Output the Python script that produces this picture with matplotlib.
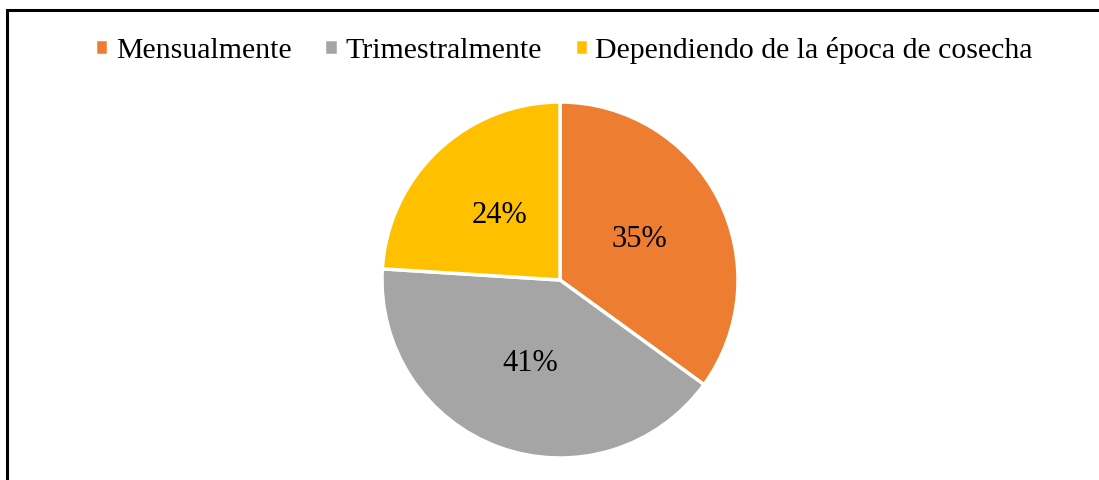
import matplotlib
matplotlib.use("Agg")
import matplotlib.pyplot as plt
from matplotlib.patches import Rectangle

categories = ["Mensualmente", "Trimestralmente", "Dependiendo de la época de cosecha"]
values = [35, 41, 24]
colors = ["#ED7D31", "#A5A5A5", "#FFC000"]

plt.rcParams['font.family'] = ['Liberation Serif', 'DejaVu Serif']

fig = plt.figure(figsize=(10.99, 4.80), dpi=100)
W, H = 1099, 480

# outer frame
fig.patches.append(Rectangle((7 / W, -0.1), 1.2, (480 - 10) / H + 0.1,
                             transform=fig.transFigure, fill=False,
                             edgecolor="black", linewidth=2.2))

cx, cy, r = 560, 280, 178
ax = fig.add_axes([(cx - r) / W, (H - cy - r) / H, 2 * r / W, 2 * r / H])
wedges, texts, autotexts = ax.pie(values, colors=colors, startangle=90, counterclock=False,
                                  autopct=lambda p: f"{p:.0f}%", pctdistance=0.5,
                                  wedgeprops=dict(edgecolor="white", linewidth=2.5),
                                  textprops=dict(fontsize=22, color="black"))
ax.set_xlim(-1, 1)
ax.set_ylim(-1, 1)
ax.set_aspect("equal")

fig.legend(wedges, categories, loc="center", bbox_to_anchor=(564 / W, 1 - 50 / H),
           ncol=3, frameon=False, fontsize=21.5, handlelength=0.45, handleheight=0.45,
           handletextpad=0.25, columnspacing=1.1)

fig.savefig("out.png", dpi=100)
